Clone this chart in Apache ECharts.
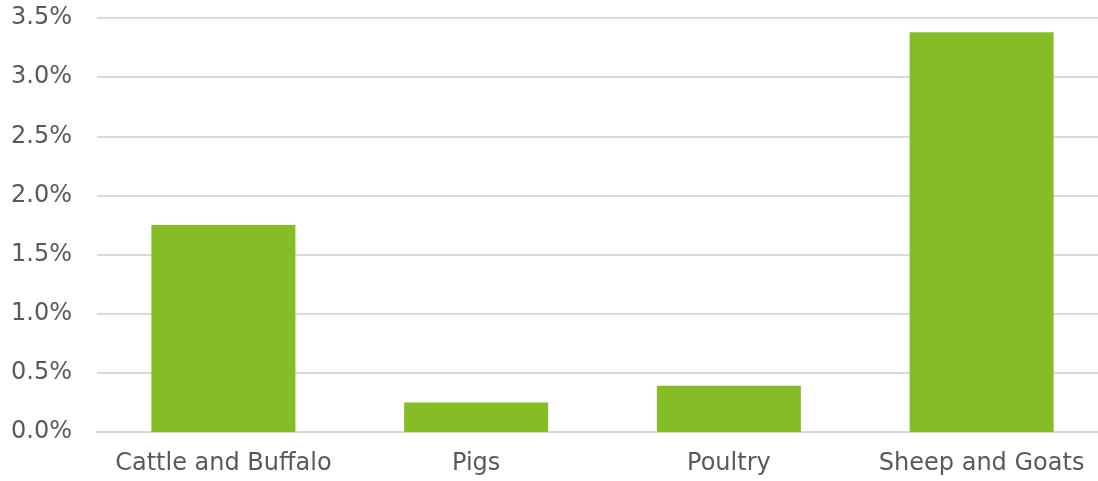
<!DOCTYPE html>
<html><head><meta charset="utf-8">
<script src="https://cdn.jsdelivr.net/npm/echarts@6/dist/echarts.min.js"></script>
<style>html,body{margin:0;padding:0;background:#fff}#c{width:1098px;height:481px}</style>
</head><body><div id="c"></div>
<script>
const categories = ["Cattle and Buffalo", "Pigs", "Poultry", "Sheep and Goats"];
const values = [1.75, 0.25, 0.39, 3.38];
const yTicks = { min: 0, max: 3.5, interval: 0.5 };

const FONT = '"DejaVu Sans", Verdana, sans-serif';
const chart = echarts.init(document.getElementById('c'), null, {renderer: 'canvas'});
chart.setOption({
  animation: false,
  grid: { left: 97, width: 1011, top: 18, bottom: 49, containLabel: false, outerBoundsMode: 'none' },
  xAxis: {
    type: 'category', data: categories,
    axisLine: { lineStyle: { color: '#d9d9d9', width: 2 } },
    axisTick: { show: false },
    axisLabel: { color: '#595959', fontSize: 24, fontFamily: FONT, margin: 20, interval: 0, hideOverlap: false }
  },
  yAxis: {
    type: 'value', min: yTicks.min, max: yTicks.max, interval: yTicks.interval,
    axisLine: { show: false }, axisTick: { show: false },
    splitLine: { lineStyle: { color: '#d9d9d9', width: 2 } },
    axisLabel: { color: '#595959', fontSize: 24, fontFamily: FONT, margin: 25,
      formatter: v => v.toFixed(1) + '%' }
  },
  series: [{ type: 'bar', data: values, barWidth: 144, itemStyle: { color: '#86bc25' } }]
});
</script></body></html>
